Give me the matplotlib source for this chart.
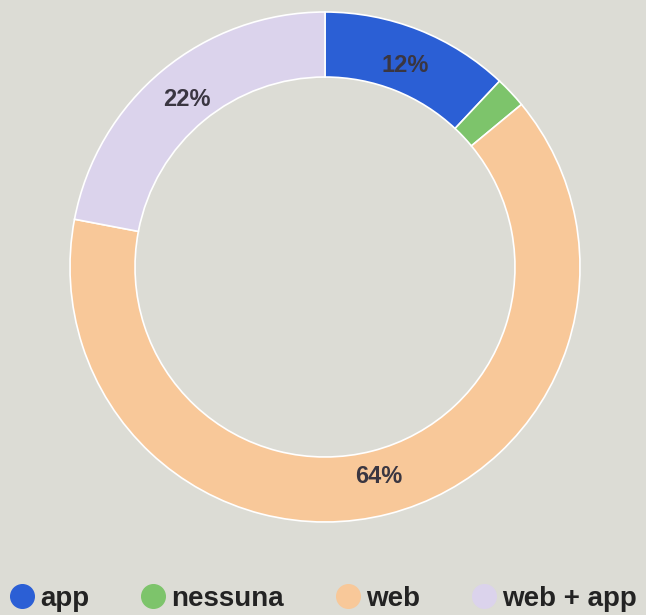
import matplotlib
matplotlib.use('Agg')
import matplotlib.pyplot as plt
from matplotlib.lines import Line2D

# data
categories = ['app', 'nessuna', 'web', 'web + app']
shares = [12, 2, 64, 22]
labels = ['12%', '', '64%', '22%']
colors = ['#2b5fd5', '#7dc46b', '#f8c899', '#dbd3ec']
bg = '#dcdcd5'

plt.rcParams['font.family'] = ['Liberation Sans', 'DejaVu Sans']

fig = plt.figure(figsize=(6.46, 6.15), dpi=100)
fig.patch.set_facecolor(bg)

# pie axes placed so the ring sits where it does in the reference
ax = fig.add_axes([70 / 646, 93 / 615, 510 / 646, 510 / 615])
ax.set_facecolor(bg)

wedges, texts = ax.pie(shares, colors=colors, startangle=90, counterclock=False,
                       radius=1.0, labels=labels, labeldistance=0.85,
                       wedgeprops=dict(width=0.255, edgecolor='white', linewidth=1.2),
                       textprops=dict(fontsize=17, fontweight='bold', color='#3a3641'))
for t in texts:
    t.set_ha('center')
    t.set_va('center')
ax.set_xlim(-1.0, 1.0)
ax.set_ylim(-1.0, 1.0)
ax.set_aspect('equal')
ax.axis('off')

handles = [Line2D([], [], marker='o', ls='', markersize=17, markerfacecolor=c,
                  markeredgecolor=c) for c in colors]
fig.legend(handles, categories, loc='center', bbox_to_anchor=(0.5, 16 / 615),
           ncol=4, frameon=False, handlelength=0.9, handletextpad=0.2,
           columnspacing=1.85, borderpad=0, borderaxespad=0,
           prop=dict(size=20, weight='bold'), labelcolor='#232323')

fig.savefig('out.png', dpi=100, facecolor=bg)
